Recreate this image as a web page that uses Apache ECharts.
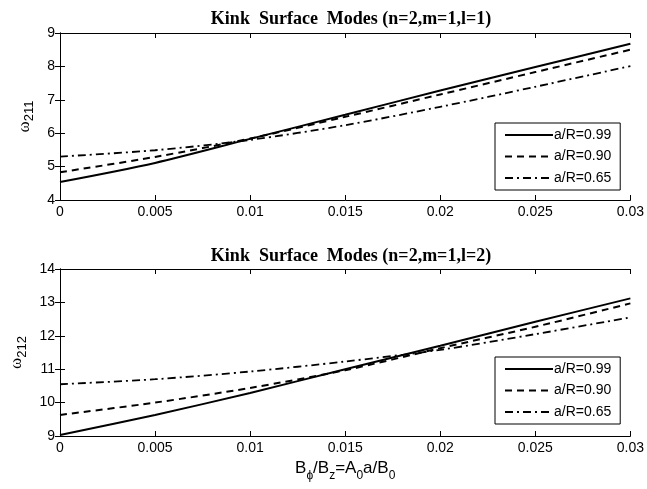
<!DOCTYPE html>
<html><head><meta charset="utf-8">
<script src="https://cdn.jsdelivr.net/npm/echarts@6/dist/echarts.min.js"></script>
<style>html,body{margin:0;padding:0;background:#fff}#c{width:647px;height:489px}</style>
</head><body><div id="c"></div>
<script>
const xVals = [0, 0.005, 0.01, 0.015, 0.02, 0.025, 0.03];
const names = ['a/R=0.99', 'a/R=0.90', 'a/R=0.65'];
// top plot (l=1)
const top099 = [4.54, 5.11, 5.83, 6.55, 7.28, 7.98, 8.68];
const top090 = [4.83, 5.29, 5.84, 6.49, 7.16, 7.83, 8.50];
const top065 = [5.30, 5.49, 5.80, 6.24, 6.79, 7.39, 8.01];
// bottom plot (l=2)
const bot099 = [9.03, 9.63, 10.29, 11.00, 11.70, 12.42, 13.12];
const bot090 = [9.63, 10.00, 10.44, 10.97, 11.63, 12.27, 12.97];
const bot065 = [10.55, 10.70, 10.93, 11.23, 11.58, 12.05, 12.55];
const titles = ['Kink  Surface  Modes (n=2,m=1,l=1)', 'Kink  Surface  Modes (n=2,m=1,l=2)'];
const yTicksTop = [4, 9];
const yTicksBot = [9, 14];

const pair = (ys) => xVals.map((x, i) => [x, ys[i]]);
const styles = [
  {type: 'solid', width: 2},
  {type: [7, 5], width: 2},
  {type: [8, 4, 2, 4], width: 1.8}
];
const font = 'Liberation Sans, Arial, sans-serif';
const tickFs = 14;

const grids = [
  {left: 60, top: 33, width: 572, height: 167},
  {left: 60, top: 269, width: 572, height: 167}
];
const axLine = {show: true, lineStyle: {color: '#000', width: 1}};
const axTick = {show: true, inside: true, length: 5, lineStyle: {color: '#000'}};

const xAxes = [], yAxes = [];
[0, 1].forEach(g => {
  xAxes.push({type: 'value', gridIndex: g, min: 0, max: 0.03, interval: 0.005, position: 'bottom',
    axisLine: axLine, axisTick: axTick, splitLine: {show: false},
    axisLabel: {color: '#000', fontFamily: font, fontSize: tickFs, margin: 5},
    name: g === 1 ? '{b|B}{s|ϕ}{b|/B}{s|z}{b|=A}{s|0}{b|a/B}{s|0}' : '',
    nameLocation: 'middle', nameGap: 24,
    nameTextStyle: {rich: {
      b: {fontFamily: font, fontSize: 17, lineHeight: 18, color: '#000', verticalAlign: 'top'},
      s: {fontFamily: font, fontSize: 12, lineHeight: 12, color: '#000', padding: [10, 0, 0, 0], verticalAlign: 'top'}
    }}
  });
  xAxes.push({type: 'value', gridIndex: g, min: 0, max: 0.03, interval: 0.005, position: 'top',
    axisLine: axLine, axisTick: axTick, axisLabel: {show: false}, splitLine: {show: false}});
  const yr = g === 0 ? yTicksTop : yTicksBot;
  yAxes.push({type: 'value', gridIndex: g, min: yr[0], max: yr[1], interval: 1, position: 'left',
    axisLine: axLine, axisTick: axTick, splitLine: {show: false},
    axisLabel: {color: '#000', fontFamily: font, fontSize: tickFs, margin: 5},
    name: g === 0 ? '{w|ω}{s|211}' : '{w|ω}{s|212}',
    nameLocation: 'middle', nameGap: 28, nameRotate: 90,
    nameTextStyle: {rich: {
      w: {fontFamily: 'Liberation Serif, serif', fontSize: 17, lineHeight: 16, color: '#000', verticalAlign: 'top'},
      s: {fontFamily: font, fontSize: 13, lineHeight: 13, color: '#000', padding: [7, 0, 0, 0], verticalAlign: 'top'}
    }}
  });
  yAxes.push({type: 'value', gridIndex: g, min: yr[0], max: yr[1], interval: 1, position: 'right',
    axisLine: axLine, axisTick: axTick, axisLabel: {show: false}, splitLine: {show: false}});
});

const series = [];
const dataSets = [[top099, top090, top065], [bot099, bot090, bot065]];
[0, 1].forEach(g => {
  dataSets[g].forEach((ys, k) => {
    series.push({
      type: 'line', name: names[k], xAxisIndex: g * 2, yAxisIndex: g * 2,
      data: pair(ys), smooth: 0.3, symbol: 'none', silent: true,
      lineStyle: Object.assign({color: '#000'}, styles[k]),
      itemStyle: {color: '#000'}
    });
  });
});

const legendBase = {
  orient: 'vertical', itemWidth: 48, itemHeight: 14, itemGap: 7.5,
  backgroundColor: '#fff', borderColor: '#000', borderWidth: 1,
  padding: [5, 9, 5, 9], data: names, selectedMode: false,
  itemStyle: {color: 'transparent', borderColor: 'transparent', borderWidth: 0, opacity: 0},
  textStyle: {fontFamily: font, fontSize: 14, color: '#000', padding: [0, 0, 0, -4]}
};

const option = {
  animation: false,
  backgroundColor: '#fff',
  title: titles.map((t, i) => ({
    text: t, left: 346, textAlign: 'center', top: i === 0 ? 5 : 242,
    textStyle: {fontFamily: 'Liberation Serif, Times New Roman, serif', fontWeight: 'bold', fontSize: 18, color: '#000'}
  })),
  grid: grids,
  xAxis: xAxes,
  yAxis: yAxes,
  legend: [
    Object.assign({}, legendBase, {left: 495, top: 123}),
    Object.assign({}, legendBase, {left: 495, top: 357})
  ],
  series: series
};
const chart = echarts.init(document.getElementById('c'), null, {renderer: 'canvas'});
chart.setOption(option);
</script></body></html>
